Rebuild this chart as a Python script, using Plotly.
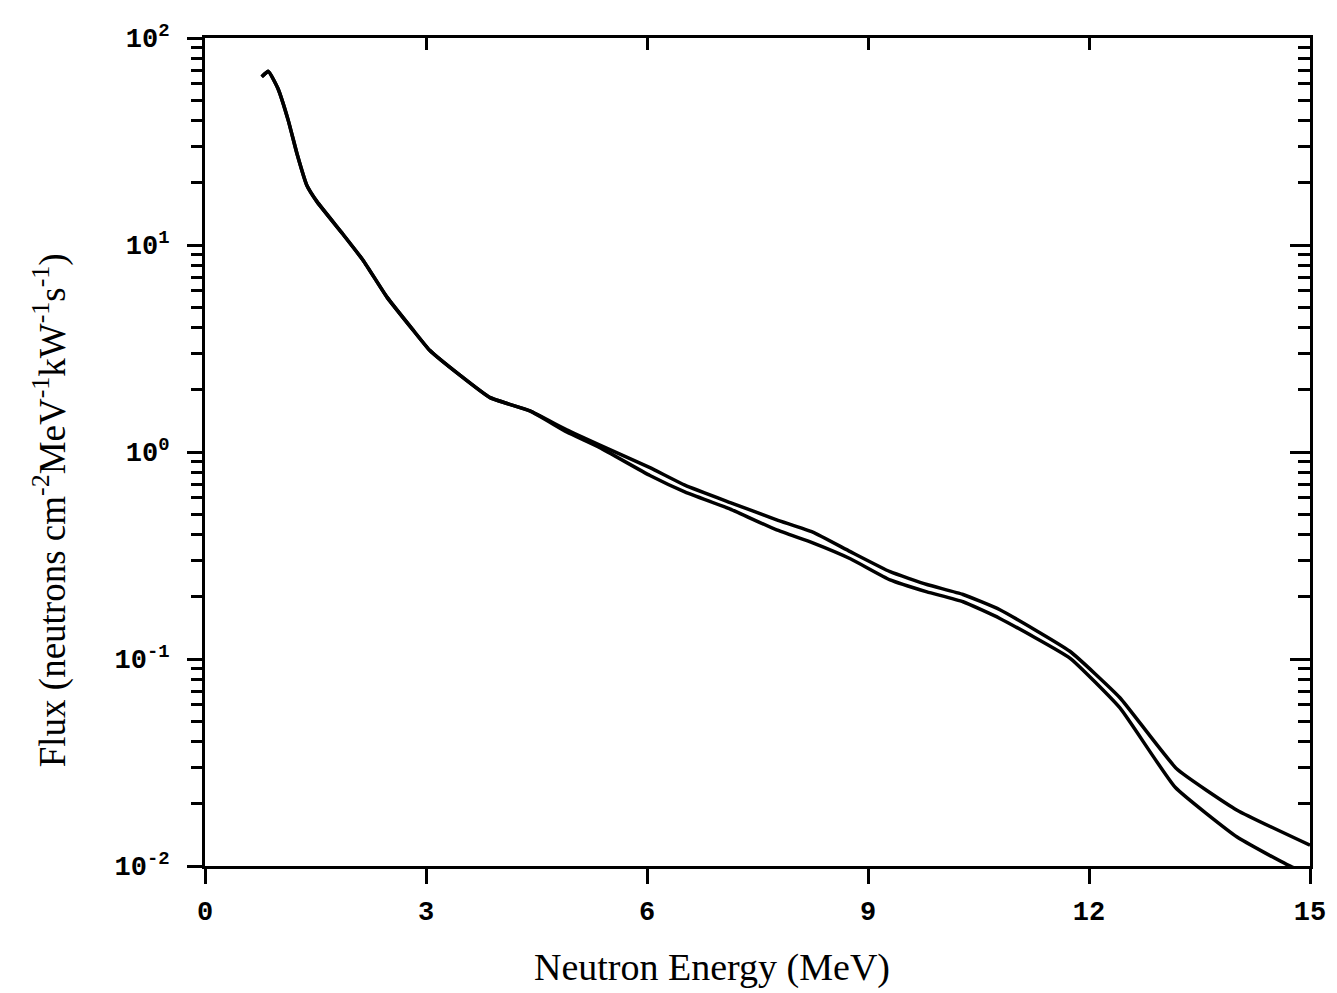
import plotly.graph_objects as go

# ------------------------------------------------------------
# Neutron flux spectrum
# ------------------------------------------------------------

energy_a = [0.77, 0.86, 0.99, 1.13, 1.25, 1.38, 1.52, 1.87, 2.15, 2.47, 2.82, 3.05,
            3.46, 3.87, 4.41, 4.91, 5.36, 6.04, 6.52, 7.13, 7.76, 8.25, 8.76, 9.30,
            9.80, 10.29, 10.79, 11.74, 12.42, 13.19, 14.01, 15.0]
flux_a = [65, 69, 57, 40, 27.5, 19.5, 16.2, 11.3, 8.4, 5.6, 3.9, 3.1,
          2.35, 1.83, 1.58, 1.28, 1.08, 0.84, 0.69, 0.57, 0.47, 0.41, 0.33, 0.264,
          0.229, 0.205, 0.173, 0.109, 0.065, 0.0295, 0.0186, 0.0126]

energy_b = [0.77, 0.86, 0.99, 1.13, 1.25, 1.38, 1.52, 1.87, 2.15, 2.47, 2.82, 3.05,
            3.46, 3.87, 4.41, 4.91, 5.36, 6.04, 6.52, 7.13, 7.76, 8.25, 8.76, 9.30,
            9.80, 10.29, 10.79, 11.74, 12.42, 13.17, 14.01, 14.75, 15.0]
flux_b = [65, 69, 57, 40, 27.5, 19.5, 16.2, 11.3, 8.4, 5.6, 3.9, 3.1,
          2.35, 1.83, 1.58, 1.25, 1.05, 0.77, 0.64, 0.53, 0.42, 0.364, 0.305, 0.241,
          0.211, 0.189, 0.157, 0.101, 0.058, 0.024, 0.0138, 0.0099, 0.0092]

x_ticks = [0, 3, 6, 9, 12, 15]
y_ticks = [1e-2, 1e-1, 1, 10, 100]
y_ticktext = ["10<sup>-2</sup>", "10<sup>-1</sup>", "10<sup>0</sup>",
              "10<sup>1</sup>", "10<sup>2</sup>"]
y_minor = [m * 10.0 ** k for k in (-2, -1, 0, 1) for m in range(2, 10)]

tick_font = dict(family="Liberation Mono", size=27, color="black", weight="bold")
title_font = dict(family="Liberation Serif", size=38, color="black")

fig = go.Figure()
fig.add_trace(go.Scatter(x=energy_a, y=flux_a, mode="lines",
                         line=dict(color="black", width=3.5, shape="spline", smoothing=0.4)))
fig.add_trace(go.Scatter(x=energy_b, y=flux_b, mode="lines",
                         line=dict(color="black", width=3.5, shape="spline", smoothing=0.4)))

axis_common = dict(showline=True, linecolor="black", linewidth=3, showgrid=False,
                   zeroline=False, tickcolor="black", tickwidth=3)

fig.update_layout(
    width=1337, height=993,
    paper_bgcolor="white", plot_bgcolor="white",
    margin=dict(l=197, r=35, t=22, b=135),
    showlegend=False,
    xaxis=dict(range=[0, 15], tickmode="array", tickvals=x_ticks,
               ticks="outside", ticklen=15, tickfont=tick_font,
               ticklabelstandoff=4, **axis_common),
    xaxis2=dict(range=[0, 15], overlaying="x", side="top", tickmode="array",
                tickvals=x_ticks, ticks="inside", ticklen=12,
                showticklabels=False, **axis_common),
    yaxis=dict(type="log", range=[-2, 2], tickmode="array", tickvals=y_ticks,
               ticktext=y_ticktext, ticks="outside", ticklen=15, tickfont=tick_font,
               ticklabelstandoff=12,
               minor=dict(tickmode="array", tickvals=y_minor, ticks="outside",
                          ticklen=11, tickcolor="black", tickwidth=3),
               **axis_common),
    yaxis2=dict(type="log", range=[-2, 2], overlaying="y", side="right",
                tickmode="array", tickvals=y_ticks, ticks="inside", ticklen=20,
                showticklabels=False,
                minor=dict(tickmode="array", tickvals=y_minor, ticks="inside",
                           ticklen=12, tickcolor="black", tickwidth=3),
                **axis_common),
    annotations=[
        dict(text="Neutron Energy (MeV)", xref="paper", yref="paper",
             x=0.459, y=-0.122, showarrow=False, font=title_font,
             xanchor="center", yanchor="middle"),
        dict(text="Flux (neutrons cm<sup>-2</sup>MeV<sup>-1</sup>kW<sup>-1</sup>s<sup>-1</sup>)",
             xref="paper", yref="paper", x=-0.140, y=0.43, textangle=-90,
             showarrow=False, font=dict(family="Liberation Serif", size=37, color="black"),
             xanchor="center", yanchor="middle"),
    ],
)

# invisible trace so the mirrored axes are drawn
fig.add_trace(go.Scatter(x=[None], y=[None], xaxis="x2", yaxis="y2", showlegend=False,
                         hoverinfo="skip"))

fig.write_html("out.html")
